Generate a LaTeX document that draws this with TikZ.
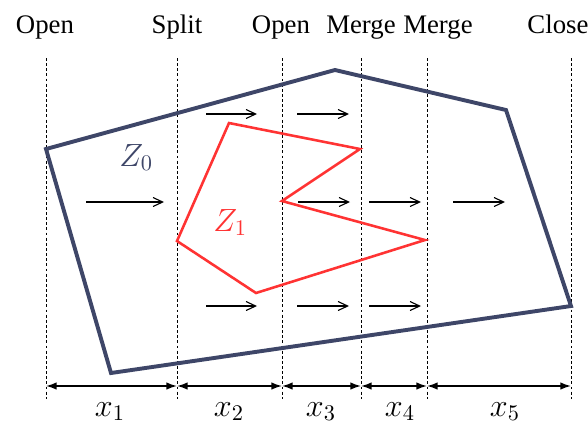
\documentclass[tikz,border=0pt]{standalone}
\usepackage{fontspec}
\setmainfont{Liberation Serif}
\usetikzlibrary{arrows.meta}
\definecolor{zblue}{RGB}{62,70,104}
\definecolor{zred}{RGB}{255,51,51}
\begin{document}
\begin{tikzpicture}[x=0.448pt,y=-0.448pt,
  guide/.style={dash pattern=on 1.3pt off 1pt, line width=0.4pt},
  flow/.style={line width=0.5pt, -{Straight Barb[length=4.3pt,width=4pt]}},
  dim/.style={line width=0.7pt, {Latex[length=4.8pt,width=3.4pt]}-{Latex[length=4.8pt,width=3.4pt]}},
  toplab/.style={anchor=base, font=\fontsize{12}{14}\selectfont, inner sep=0pt},
  mathlab/.style={anchor=base, font=\fontsize{14.4}{17}\selectfont, inner sep=0pt},
  zoneblue/.style={line width=1.75pt, draw=zblue, line join=miter},
  zonered/.style={line width=1.15pt, draw=zred, line join=miter},
]
\useasboundingbox (0,0) rectangle (588,423);

% guide lines
\foreach \i/\x in {1/46,2/177,3/282,4/361,5/427,6/571}{
  \coordinate (t\i) at (\x,58);
  \coordinate (b\i) at (\x,399);
  \coordinate (d\i) at (\x,386);
  \draw[guide] (t\i) -- (b\i);
}

% top labels
\node[toplab] (l1) at (45,33) {Open};
\node[toplab] (l2) at (177,33) {Split};
\node[toplab] (l3) at (281,33) {Open};
\node[toplab] (l4) at (361,33) {Merge};
\node[toplab] (l5) at (438,33) {Merge};
\node[toplab, anchor=base west] (l6) at (527,33) {Close};

% Z0 polygon
\coordinate (a1) at (46,149);
\coordinate (a2) at (335,70);
\coordinate (a3) at (506,110);
\coordinate (a4) at (571,306);
\coordinate (a5) at (111,373);
\draw[zoneblue] (a1) -- (a2) -- (a3) -- (a4) -- (a5) -- cycle;

% Z1 polygon
\coordinate (r1) at (229,123);
\coordinate (r2) at (360,149);
\coordinate (r3) at (282,201);
\coordinate (r4) at (425,240);
\coordinate (r5) at (256,293);
\coordinate (r6) at (177,241);
\draw[zonered] (r1) -- (r2) -- (r3) -- (r4) -- (r5) -- (r6) -- cycle;

% region labels
\node[mathlab, anchor=base west, text=zblue] (z0) at (119,166) {$Z_0$};
\node[mathlab, anchor=base west, text=zred] (z1) at (213,231) {$Z_1$};

% flow arrows
\foreach \n/\xa/\xb/\y in {f1/206/257/114, f2/297/349/114,
   f3/86/164/202, f4/298/350/202, f5/369/421/202, f6/453/505/202,
   f7/206/257/306, f8/297/349/306, f9/369/421/306}{
  \coordinate (\n s) at (\xa,\y);
  \coordinate (\n e) at (\xb,\y);
  \draw[flow] (\n s) -- (\n e);
}

% dimension arrows
\draw[dim] (d1) -- (d2);
\draw[dim] (d2) -- (d3);
\draw[dim] (d3) -- (d4);
\draw[dim] (d4) -- (d5);
\draw[dim] (d5) -- (d6);

% dimension labels
\node[mathlab] (x1) at (110,416) {$x_1$};
\node[mathlab] (x2) at (229,416) {$x_2$};
\node[mathlab] (x3) at (321,416) {$x_3$};
\node[mathlab] (x4) at (400,416) {$x_4$};
\node[mathlab] (x5) at (505,416) {$x_5$};
\end{tikzpicture}
\end{document}
